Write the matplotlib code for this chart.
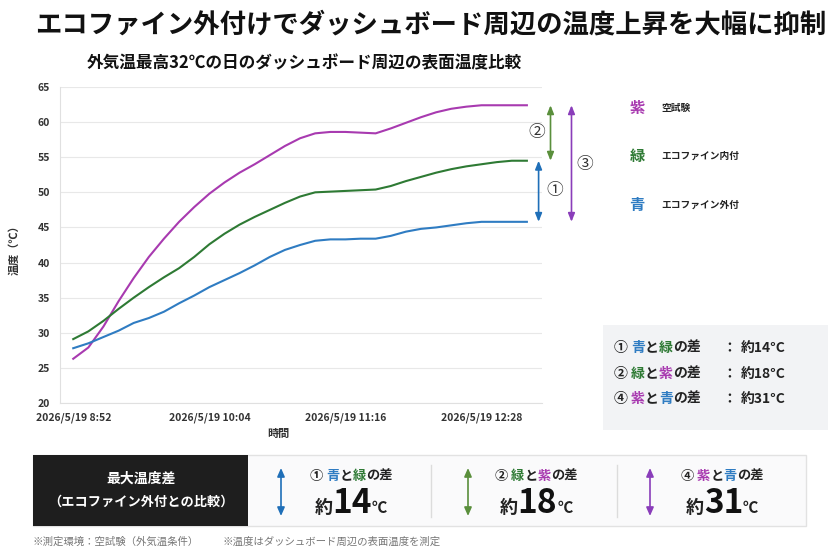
import matplotlib
matplotlib.use("Agg")
import matplotlib.pyplot as plt
from matplotlib.patches import Rectangle, FancyArrowPatch

plt.rcParams['font.family'] = ['Noto Sans CJK JP', 'DejaVu Sans']

PURPLE = "#A83AB0"
GREEN = "#2E7A34"
BLUE = "#2F7CC2"
A_BLUE = "#1F6FB8"
A_GREEN = "#5A8F3C"
A_PURPLE = "#8A3DBA"
DARK = "#222222"

# minutes after 2026/5/19 8:52
minutes = list(range(0, 241, 8))
purple = [26.3, 27.9, 30.9, 34.5, 37.8, 40.8, 43.4, 45.8, 47.9, 49.8, 51.4,
          52.8, 54.0, 55.3, 56.6, 57.7, 58.4, 58.6, 58.6, 58.5, 58.4, 59.1,
          59.9, 60.7, 61.4, 61.9, 62.2, 62.4, 62.4, 62.4, 62.4]
green = [29.1, 30.2, 31.7, 33.4, 35.0, 36.5, 37.9, 39.2, 40.8, 42.6, 44.1,
         45.4, 46.5, 47.5, 48.5, 49.4, 50.0, 50.1, 50.2, 50.3, 50.4, 50.9,
         51.6, 52.2, 52.8, 53.3, 53.7, 54.0, 54.3, 54.5, 54.5]
blue = [27.8, 28.5, 29.4, 30.3, 31.4, 32.1, 33.0, 34.2, 35.3, 36.5, 37.5,
        38.5, 39.6, 40.8, 41.8, 42.5, 43.1, 43.3, 43.3, 43.4, 43.4, 43.8,
        44.4, 44.8, 45.0, 45.3, 45.6, 45.8, 45.8, 45.8, 45.8]
tick_minutes = [0, 72, 144, 216]
tick_labels = ["2026/5/19 8:52", "2026/5/19 10:04", "2026/5/19 11:16", "2026/5/19 12:28"]
y_ticks = [20, 25, 30, 35, 40, 45, 50, 55, 60, 65]

legend_names = [("紫", "空試験", PURPLE), ("緑", "エコファイン内付", GREEN), ("青", "エコファイン外付", BLUE)]
diff_rows = [("①", "青", BLUE, "緑", GREEN, "約14°C"),
             ("②", "緑", GREEN, "紫", PURPLE, "約18°C"),
             ("④", "紫", PURPLE, "青", BLUE, "約31°C")]
max_diffs = ["14", "18", "31"]

W, H = 840, 556
fig = plt.figure(figsize=(8.4, 5.56), dpi=100)
fig.patch.set_facecolor("white")


def fx(px):
    return px / W


def fy(py):
    return 1 - py / H


renderer = fig.canvas.get_renderer()


def runs(x, y, parts, ha="left", weight="bold"):
    """draw coloured text pieces one after another; x,y in pixels, y = baseline"""
    items = []
    for s, c, size in parts:
        t = fig.text(0, 0, s, color=c, fontsize=size, va="baseline", fontweight=weight)
        items.append((t, t.get_window_extent(renderer).width))
    total = sum(w for _, w in items)
    start = x - (total / 2 if ha == "center" else 0)
    for t, w in items:
        t.set_position((fx(start), fy(y)))
        start += w


# titles
fig.text(fx(35), fy(25), "エコファイン外付けでダッシュボード周辺の温度上昇を大幅に抑制",
         fontsize=19, fontweight="bold", color="#111111", va="center")
fig.text(fx(87), fy(63), "外気温最高32℃の日のダッシュボード周辺の表面温度比較",
         fontsize=12, fontweight="bold", color="#111111", va="center")

# main chart
ax = fig.add_axes([fx(60), fy(403), fx(542) - fx(60), fy(87) - fy(403)])
ax.plot(minutes, purple, color=PURPLE, lw=1.5)
ax.plot(minutes, green, color=GREEN, lw=1.5)
ax.plot(minutes, blue, color=BLUE, lw=1.5)
ax.set_xlim(-7, 248)
ax.set_ylim(20, 65)
ax.set_yticks(y_ticks)
ax.set_xticks(tick_minutes)
ax.set_xticklabels(tick_labels)
ax.tick_params(length=0, labelsize=7.5, labelcolor="#333333", pad=7)
for lab in ax.get_xticklabels() + ax.get_yticklabels():
    lab.set_fontweight("bold")
ax.grid(axis="y", color="#E8E8E8", lw=0.8)
for s in ["top", "right"]:
    ax.spines[s].set_visible(False)
for s in ["left", "bottom"]:
    ax.spines[s].set_color("#E0E0E0")
ax.set_axisbelow(True)
fig.text(fx(14), fy(247), "温度（℃）", rotation=90, fontsize=8, fontweight="bold",
         color="#333333", ha="center", va="center")
fig.text(fx(278), fy(433), "時間", fontsize=8, fontweight="bold", color="#333333",
         ha="center", va="center")

# difference arrows at the end of the lines
arrow_kw = dict(arrowstyle="<|-|>,head_length=0.5,head_width=0.2", lw=1.2, shrinkA=0, shrinkB=0)
ax.annotate("", xy=(246.2, blue[-1]), xytext=(246.2, green[-1]), annotation_clip=False,
            arrowprops=dict(color=A_BLUE, **arrow_kw))
ax.annotate("", xy=(252.5, green[-1]), xytext=(252.5, purple[-1]), annotation_clip=False,
            arrowprops=dict(color=A_GREEN, **arrow_kw))
ax.annotate("", xy=(263.6, blue[-1]), xytext=(263.6, purple[-1]), annotation_clip=False,
            arrowprops=dict(color=A_PURPLE, **arrow_kw))
for txt, px, py in [("②", 537, 132), ("③", 585, 165), ("①", 555, 191)]:
    fig.text(fx(px), fy(py), txt, fontsize=12, color="#333333", ha="center", va="center")

# legend on the right
for (mark, name, col), py in zip(legend_names, [108, 156, 205]):
    fig.text(fx(637), fy(py), mark, fontsize=11, fontweight="bold", color=col,
             ha="center", va="center")
    fig.text(fx(661), fy(py), name, fontsize=7, fontweight="bold", color="#222222",
             va="center")

# grey summary box
fig.patches.append(Rectangle((fx(603), fy(430)), fx(828) - fx(603), fy(325) - fy(430),
                             transform=fig.transFigure, facecolor="#F2F3F5", edgecolor="none"))
for (num, c1, col1, c2, col2, val), py in zip(diff_rows, [352, 378, 403]):
    runs(614, py, [(num + " ", DARK, 10), (c1, col1, 10), ("と", DARK, 10),
                   (c2, col2, 10), ("の差", DARK, 10)])
    fig.text(fx(722), fy(py), "：", fontsize=10, fontweight="bold", color=DARK, va="baseline")
    fig.text(fx(741), fy(py), val, fontsize=10, fontweight="bold", color=DARK, va="baseline")

# bottom panel
fig.patches.append(Rectangle((fx(33), fy(526)), fx(806) - fx(33), fy(455) - fy(526),
                             transform=fig.transFigure, facecolor="#FAFAFB",
                             edgecolor="#E2E2E2", lw=1))
fig.patches.append(Rectangle((fx(33), fy(526)), fx(248) - fx(33), fy(455) - fy(526),
                             transform=fig.transFigure, facecolor="#1E1E1E", edgecolor="none"))
fig.text(fx(141), fy(479), "最大温度差", fontsize=10, fontweight="bold", color="white",
         ha="center", va="center")
fig.text(fx(141), fy(502), "（エコファイン外付との比較）", fontsize=9.5, fontweight="bold",
         color="white", ha="center", va="center")
for sx in [431, 617]:
    fig.add_artist(plt.Line2D([fx(sx), fx(sx)], [fy(465), fy(517)], color="#DCDCDC", lw=1))

arrow_cols = [A_BLUE, A_GREEN, A_PURPLE]
cells = [(281, 351), (468, 536), (650, 722)]
for (num, c1, col1, c2, col2, _), val, acol, (axp, cx) in zip(diff_rows, max_diffs, arrow_cols, cells):
    fig.add_artist(FancyArrowPatch(
        (fx(axp), fy(468)), (fx(axp), fy(516)), transform=fig.transFigure,
        arrowstyle="<|-|>,head_length=5,head_width=2.2", color=acol, lw=1.2,
        shrinkA=0, shrinkB=0, zorder=5))
    runs(cx, 480, [(num + " ", DARK, 9.5), (c1, col1, 9.5), ("と", DARK, 9.5),
                   (c2, col2, 9.5), ("の差", DARK, 9.5)], ha="center")
    runs(cx, 513, [("約", DARK, 13), (val, "#111111", 24), ("℃", DARK, 11)], ha="center")

fig.text(fx(33), fy(542), "※測定環境：空試験（外気温条件）", fontsize=7.5, color="#777777", va="center")
fig.text(fx(222), fy(542), "※温度はダッシュボード周辺の表面温度を測定", fontsize=7.5,
         color="#777777", va="center")

fig.savefig("out.png", dpi=100)
